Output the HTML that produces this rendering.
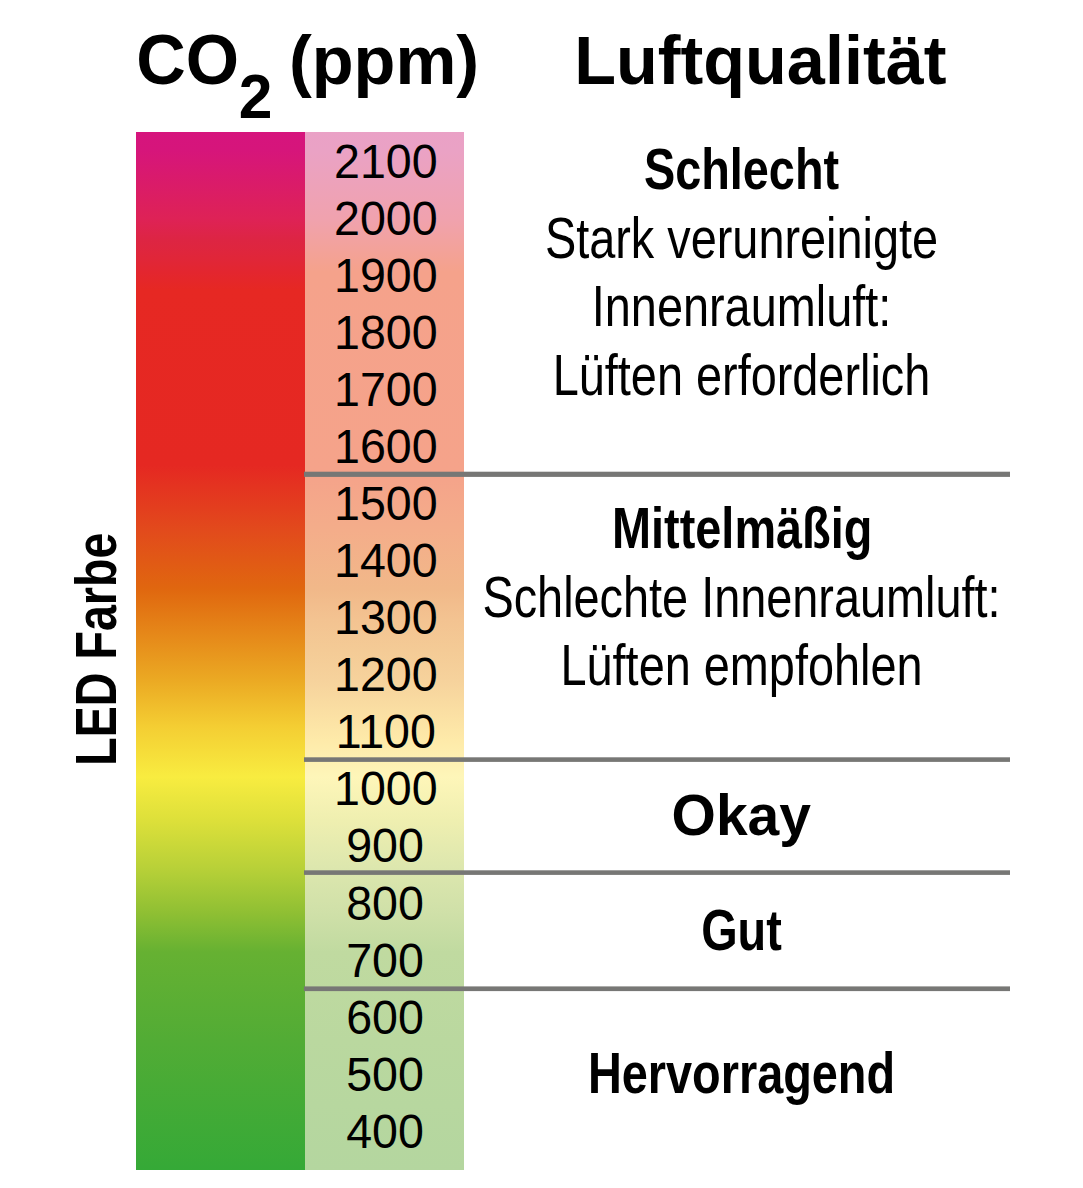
<!DOCTYPE html>
<html lang="de">
<head>
<meta charset="utf-8">
<title>CO2 (ppm) – Luftqualität</title>
<style>
html,body{margin:0;padding:0;background:#fff;}
body{width:1083px;height:1188px;overflow:hidden;}
svg{display:block;font-family:"Liberation Sans", sans-serif;fill:#000;}
</style>
</head>
<body>
<svg width="1083" height="1188" viewBox="0 0 1083 1188">
<defs>
<linearGradient id="gs" x1="0" y1="132" x2="0" y2="1170" gradientUnits="userSpaceOnUse"><stop offset="0.0000" stop-color="#D6147D"/><stop offset="0.0173" stop-color="#D6157B"/><stop offset="0.0838" stop-color="#DE2256"/><stop offset="0.1040" stop-color="#DD2543"/><stop offset="0.1214" stop-color="#E02639"/><stop offset="0.1349" stop-color="#E3262F"/><stop offset="0.1522" stop-color="#E62823"/><stop offset="0.3208" stop-color="#E52822"/><stop offset="0.3834" stop-color="#E24A1C"/><stop offset="0.4403" stop-color="#E0670F"/><stop offset="0.5279" stop-color="#EBA923"/><stop offset="0.5732" stop-color="#F4CE33"/><stop offset="0.6214" stop-color="#F8EC40"/><stop offset="0.6628" stop-color="#DDE03A"/><stop offset="0.7081" stop-color="#B9D138"/><stop offset="0.7534" stop-color="#8EBF33"/><stop offset="0.7900" stop-color="#66B132"/><stop offset="0.8748" stop-color="#52AC35"/><stop offset="1.0000" stop-color="#35A937"/></linearGradient>
<linearGradient id="gl" x1="0" y1="132" x2="0" y2="1170" gradientUnits="userSpaceOnUse"><stop offset="0.0000" stop-color="#EAA1C6"/><stop offset="0.0173" stop-color="#EAA2C5"/><stop offset="0.0838" stop-color="#F0A2AE"/><stop offset="0.1349" stop-color="#F5A28B"/><stop offset="0.3304" stop-color="#F5A38A"/><stop offset="0.3834" stop-color="#F4AD8A"/><stop offset="0.4403" stop-color="#F1B889"/><stop offset="0.4701" stop-color="#F3C391"/><stop offset="0.5000" stop-color="#F4CB96"/><stop offset="0.5279" stop-color="#F6D29C"/><stop offset="0.5857" stop-color="#FEEAA9"/><stop offset="0.6214" stop-color="#FEF6B9"/><stop offset="0.6628" stop-color="#EFEFB0"/><stop offset="0.7081" stop-color="#DDE7AE"/><stop offset="0.7534" stop-color="#CFE0A8"/><stop offset="0.7900" stop-color="#C0DAA0"/><stop offset="0.8748" stop-color="#BAD89F"/><stop offset="1.0000" stop-color="#B4D69F"/></linearGradient>
</defs>
<rect x="0" y="0" width="1083" height="1188" fill="#fff"/>
<rect x="136" y="132" width="169" height="1038" fill="url(#gs)"/>
<rect x="305" y="132" width="159" height="1038" fill="url(#gl)"/>
<rect x="304" y="471.7" width="706" height="5.20" fill="#777775"/>
<rect x="304" y="757.3" width="706" height="4.60" fill="#777775"/>
<rect x="304" y="870.3" width="706" height="4.60" fill="#777775"/>
<rect x="304" y="986.4" width="706" height="4.70" fill="#777775"/>
<text transform="translate(136.2 84.4) scale(1 1.04)" font-size="68.5" font-weight="700">CO</text>
<text transform="translate(238.7 118) scale(1 1.03)" font-size="60.5" font-weight="700">2</text>
<text x="288.9" y="84.2" font-size="68.5" font-weight="700">(ppm)</text>
<text x="574.2" y="84" font-size="68.4" font-weight="700">Luftqualität</text>
<g font-size="46.6" text-anchor="middle">
<text transform="translate(385.8 178.00) scale(1 1.05)">2100</text>
<text transform="translate(385.8 235.04) scale(1 1.05)">2000</text>
<text transform="translate(385.8 292.08) scale(1 1.05)">1900</text>
<text transform="translate(385.8 349.12) scale(1 1.05)">1800</text>
<text transform="translate(385.8 406.16) scale(1 1.05)">1700</text>
<text transform="translate(385.8 463.20) scale(1 1.05)">1600</text>
<text transform="translate(385.8 520.24) scale(1 1.05)">1500</text>
<text transform="translate(385.8 577.28) scale(1 1.05)">1400</text>
<text transform="translate(385.8 634.32) scale(1 1.05)">1300</text>
<text transform="translate(385.8 691.36) scale(1 1.05)">1200</text>
<text transform="translate(385.8 748.40) scale(1 1.05)">1100</text>
<text transform="translate(385.8 805.44) scale(1 1.05)">1000</text>
<text transform="translate(385.0 862.48) scale(1 1.05)">900</text>
<text transform="translate(385.0 919.52) scale(1 1.05)">800</text>
<text transform="translate(385.0 976.56) scale(1 1.05)">700</text>
<text transform="translate(385.0 1033.60) scale(1 1.05)">600</text>
<text transform="translate(385.0 1090.64) scale(1 1.05)">500</text>
<text transform="translate(385.0 1147.68) scale(1 1.05)">400</text>
</g>
<text transform="translate(116.1 649.2) rotate(-90) scale(0.8175 1)" text-anchor="middle" font-size="57" font-weight="700">LED Farbe</text>
<text transform="translate(741.5 188.8) scale(0.8222 1)" text-anchor="middle" font-size="57" font-weight="700">Schlecht</text>
<text transform="translate(741.5 257.9) scale(0.8222 1)" text-anchor="middle" font-size="57" font-weight="400">Stark verunreinigte</text>
<text transform="translate(741.5 326.0) scale(0.8222 1)" text-anchor="middle" font-size="57" font-weight="400">Innenraumluft:</text>
<text transform="translate(741.5 394.9) scale(0.8222 1)" text-anchor="middle" font-size="57" font-weight="400">Lüften erforderlich</text>
<text transform="translate(742.2 548.4) scale(0.8222 1)" text-anchor="middle" font-size="57" font-weight="700">Mittelmäßig</text>
<text transform="translate(741.5 616.9) scale(0.8222 1)" text-anchor="middle" font-size="57" font-weight="400">Schlechte Innenraumluft:</text>
<text transform="translate(741.5 685.4) scale(0.8222 1)" text-anchor="middle" font-size="57" font-weight="400">Lüften empfohlen</text>
<text transform="translate(741.3 834.8) scale(1 1)" text-anchor="middle" font-size="57" font-weight="700">Okay</text>
<text transform="translate(741.5 949.6) scale(0.8222 1)" text-anchor="middle" font-size="57" font-weight="700">Gut</text>
<text transform="translate(741.5 1092.8) scale(0.8222 1)" text-anchor="middle" font-size="57" font-weight="700">Hervorragend</text>
</svg>
</body>
</html>
